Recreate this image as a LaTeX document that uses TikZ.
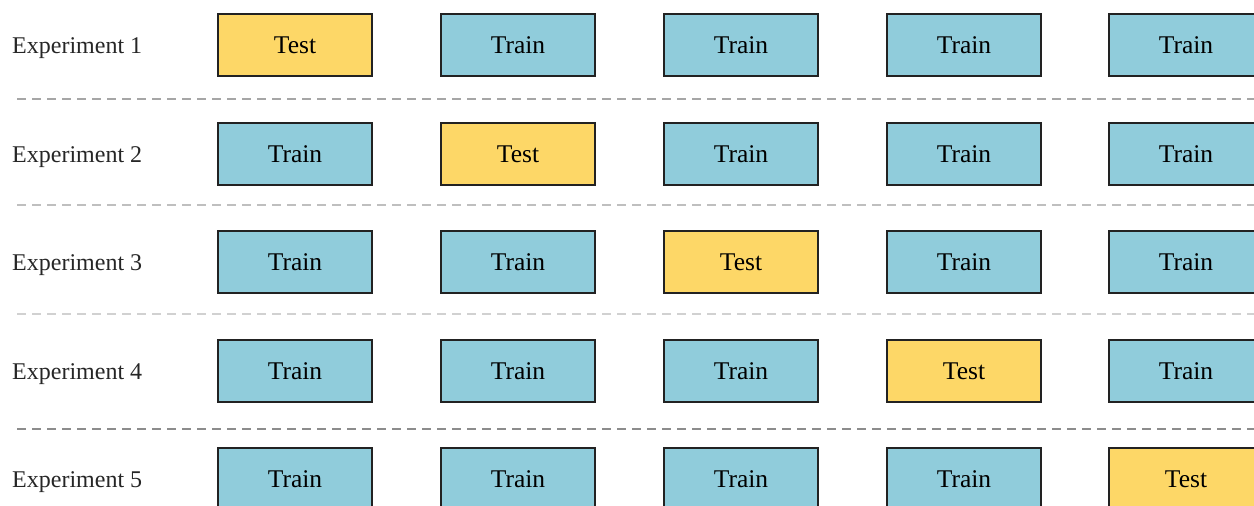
\documentclass[tikz,border=0pt]{standalone}
\usepackage{fontspec}
\setmainfont{Liberation Serif}
\definecolor{trainblue}{HTML}{90CCDB}
\definecolor{testyellow}{HTML}{FDD767}
\definecolor{edge}{HTML}{222222}
\tikzset{
  fold/.style={draw=edge, line width=1.8pt, minimum width=154pt, minimum height=62pt, inner sep=0pt, font=\fontsize{25.5}{28}\selectfont, anchor=center},
  trainbox/.style={fold, fill=trainblue},
  testbox/.style={fold, fill=testyellow},
  explabel/.style={anchor=base west, inner sep=0pt, font=\fontsize{24}{28}\selectfont, text=black!85},
  sepline/.style={line width=2pt, dash pattern=on 9pt off 6pt}
}
\begin{document}
\begin{tikzpicture}[x=1pt,y=-1pt]
\useasboundingbox (0,0) rectangle (1254,506);
\clip (0,0) rectangle (1254,506);
\foreach \r/\yy in {1/45,2/154,3/262,4/371,5/479}{
  \node[explabel] (e\r) at (12,\yy+8) {Experiment \r};
  \foreach \c/\xx in {1/295,2/518,3/741,4/964,5/1186}{
    \ifnum\r=\c
      \node[testbox] (b\r\c) at (\xx,\yy) {Test};
    \else
      \node[trainbox] (b\r\c) at (\xx,\yy) {Train};
    \fi
  }
}
\coordinate (s1a) at (17,99);  \coordinate (s1b) at (1254,99);
\coordinate (s2a) at (17,205); \coordinate (s2b) at (1254,205);
\coordinate (s3a) at (17,314); \coordinate (s3b) at (1254,314);
\coordinate (s4a) at (17,429); \coordinate (s4b) at (1254,429);
\draw[sepline, draw=black!35] (s1a) -- (s1b);
\draw[sepline, draw=black!25] (s2a) -- (s2b);
\draw[sepline, draw=black!18] (s3a) -- (s3b);
\draw[sepline, draw=black!45] (s4a) -- (s4b);
\end{tikzpicture}
\end{document}
